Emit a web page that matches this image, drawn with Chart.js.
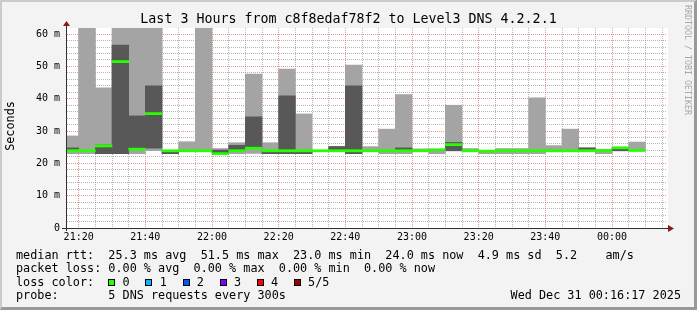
<!DOCTYPE html>
<html>
<head>
<meta charset="utf-8">
<title>Last 3 Hours from c8f8edaf78f2 to Level3 DNS 4.2.2.1</title>
<script src="https://cdn.jsdelivr.net/npm/chart.js@4.4.1/dist/chart.umd.min.js"></script>
<style>
  html, body { margin: 0; padding: 0; background: #f3f3f3; }
  #graph { position: relative; width: 697px; height: 310px; background: #f3f3f3; overflow: hidden;
           font-family: 'DejaVu Sans Mono', monospace; color: #000; }
  #graph canvas { position: absolute; left: 0; top: 0; }
  #frame { position: absolute; left: 0; top: 0; width: 697px; height: 310px; box-sizing: border-box;
           border-style: solid; border-width: 2px 3px 3px 2px; border-color: #cbcbcb #999 #999 #cbcbcb; }
  .txt { position: absolute; white-space: pre; }
  #title { left: 0; width: 697px; text-align: center; top: 11.4px; font-size: 13.3px; line-height: 16px; }
  #ylab { left: -40px; width: 100px; top: 119px; line-height: 14px; text-align: center; font-size: 11.8px;
          transform: rotate(-90deg); }
  #credit { left: 683px; top: 5px; font-size: 8.3px; line-height: 10px; writing-mode: vertical-rl; color: #a8a8a8; }
  .row { left: 16px; font-size: 11.8px; line-height: 13.3px; }
  .sw { position: absolute; width: 5px; height: 5px; border: 1px solid #000; }
  .lab { font-size: 11.8px; line-height: 13.3px; }
</style>
</head>
<body>
<div id="graph">
  <canvas id="chart" width="697" height="310"></canvas>
  <div class="txt" id="title">Last 3 Hours from c8f8edaf78f2 to Level3 DNS 4.2.2.1</div>
  <div class="txt" id="ylab">Seconds</div>
  <div class="txt" id="credit">RRDTOOL / TOBI OETIKER</div>
  <div class="txt row" style="top:248.5px">median rtt:  25.3 ms avg  51.5 ms max  23.0 ms min  24.0 ms now  4.9 ms sd  5.2    am/s</div>
  <div class="txt row" style="top:262px">packet loss: 0.00 % avg  0.00 % max  0.00 % min  0.00 % now</div>
  <div class="txt row" style="top:275.5px">loss color:</div>
  <div id="loss"></div>
  <div class="txt row" style="top:289px">probe:       5 DNS requests every 300s</div>
  <div class="txt row" style="top:289px; left:auto; right:16px">Wed Dec 31 00:16:17 2025</div>
  <div id="frame"></div>
</div>
<script>
// 5-minute slots (start time of each bar)
const slots = ['21:15','21:20','21:25','21:30','21:35','21:40','21:45','21:50','21:55',
  '22:00','22:05','22:10','22:15','22:20','22:25','22:30','22:35','22:40','22:45','22:50','22:55',
  '23:00','23:05','23:10','23:15','23:20','23:25','23:30','23:35','23:40','23:45','23:50','23:55',
  '00:00','00:05'];

// smoke: outer pings (lightest) and inner pings (darker), ms
const pingMin = [23.0,23.0,23.0,23.0,23.0,23.9,23.0,23.9,23.9,
  22.9,23.0,23.1,23.0,23.0,23.0,23.9,23.9,23.0,23.9,23.0,23.0,
  23.9,23.0,23.9,23.9,23.0,23.0,23.0,23.0,23.6,23.9,23.9,23.0,
  23.9,23.9];
const pingMax = [28.5,66.0,43.4,66.0,66.0,66.0,24.0,26.7,66.0,
  24.6,26.4,47.6,26.4,49.2,35.3,24.0,25.3,50.4,25.2,30.6,41.3,
  24.5,24.4,38.0,24.6,24.0,24.6,24.6,40.3,25.5,30.6,24.8,24.4,
  25.0,26.6];
const innerLow = [24.3,null,23.0,23.0,24.5,24.7,23.0,null,null,
  23.3,24.0,24.6,23.0,23.0,23.0,null,23.9,23.0,null,null,24.2,
  null,null,23.9,null,null,null,null,null,null,null,23.9,null,
  23.9,null];
const innerHigh = [24.8,null,25.7,56.6,34.7,44.0,23.8,null,null,
  24.1,25.6,34.4,23.8,40.9,23.8,null,25.2,44.0,null,null,24.8,
  null,null,26.5,null,null,null,null,null,null,null,24.8,null,
  24.5,null];
const medianRtt = [23.9,23.9,25.4,51.5,24.4,35.4,23.9,23.9,23.9,
  23.0,23.9,24.7,23.9,23.9,23.9,23.9,23.9,23.9,23.9,23.9,23.9,
  23.9,24.2,25.8,23.9,23.8,23.9,23.9,23.9,23.9,23.9,23.9,23.9,
  24.8,24.0];

const xTickLabels = ['21:20','21:40','22:00','22:20','22:40','23:00','23:20','23:40','00:00'];
const yTickValues = [0, 10, 20, 30, 40, 50, 60];
const yTickLabels = ['0', '10 m', '20 m', '30 m', '40 m', '50 m', '60 m'];

const lossLabels = ['0', '1', '2', '3', '4', '5/5'];
const lossColors = ['#26ff00', '#00b8ff', '#0059ff', '#7e00ff', '#ff0000', '#a00000'];

// minutes since 21:00
const toMin = t => { let [h, m] = t.split(':').map(Number); if (h < 12) h += 24; return (h - 21) * 60 + m; };
const xs = slots.map(s => toMin(s) + 2.5);
const xMajor = xTickLabels.map(toMin);

const band = (lo, hi) => slots.map((s, i) => lo[i] == null ? null : { x: xs[i], y: [lo[i], hi[i]] }).filter(Boolean);
const medianBand = medianRtt.map((m, i) => ({ x: xs[i], y: [m - 0.33, m + 0.33] }));

// loss colour legend
const loss = document.getElementById('loss');
lossLabels.forEach((l, k) => {
  const sw = document.createElement('div');
  sw.className = 'sw';
  sw.style.left = (108.3 + 37.1 * k) + 'px';
  sw.style.top = '279px';
  sw.style.background = lossColors[k];
  loss.appendChild(sw);
  const t = document.createElement('div');
  t.className = 'txt lab';
  t.style.left = (122.6 + 37.1 * k) + 'px';
  t.style.top = '275.5px';
  t.textContent = l;
  loss.appendChild(t);
});

const minorGrid = 'rgba(120,120,120,0.55)';
const majorGrid = 'rgba(225,60,60,0.55)';
const tickFont = { family: 'DejaVu Sans Mono', size: 10 };

const plotBg = {
  id: 'plotBg',
  beforeDraw(chart) {
    const { ctx, chartArea: a } = chart;
    ctx.save();
    ctx.fillStyle = '#ffffff';
    ctx.fillRect(a.left, a.top, a.right - a.left + 1, a.bottom - a.top);
    ctx.restore();
  }
};

const axisLines = {
  id: 'axisLines',
  afterDraw(chart) {
    const { ctx, chartArea: a } = chart;
    ctx.save();
    ctx.strokeStyle = '#303030';
    ctx.lineWidth = 1;
    ctx.beginPath();
    ctx.moveTo(a.left - 5, a.bottom + 0.5);
    ctx.lineTo(a.right + 3, a.bottom + 0.5);
    ctx.moveTo(a.left - 0.5, a.bottom + 3);
    ctx.lineTo(a.left - 0.5, a.top - 3);
    ctx.stroke();
    ctx.fillStyle = '#8b1a1a';
    ctx.beginPath();
    ctx.moveTo(a.right + 7, a.bottom + 0.5);
    ctx.lineTo(a.right + 1, a.bottom - 3);
    ctx.lineTo(a.right + 1, a.bottom + 4);
    ctx.fill();
    ctx.beginPath();
    ctx.moveTo(a.left - 0.5, a.top - 7);
    ctx.lineTo(a.left - 4, a.top - 2);
    ctx.lineTo(a.left + 3, a.top - 2);
    ctx.fill();
    ctx.restore();
  }
};

new Chart(document.getElementById('chart'), {
  type: 'bar',
  data: {
    datasets: [
      { label: 'median rtt', data: medianBand, backgroundColor: lossColors[0], clip: 0 },
      { label: 'inner pings', data: band(innerLow, innerHigh), backgroundColor: '#585858', clip: 0 },
      { label: 'all pings', data: band(pingMin, pingMax), backgroundColor: '#a4a4a4', clip: 0 }
    ]
  },
  options: {
    responsive: false,
    animation: false,
    events: [],
    layout: { padding: { left: 0, top: 28, right: 30, bottom: 0 } },
    datasets: { bar: { grouped: false, barPercentage: 1, categoryPercentage: 1, borderWidth: 0 } },
    plugins: { legend: { display: false }, tooltip: { enabled: false } },
    scales: {
      x: {
        type: 'linear', min: 16.5, max: 196.5, offset: false,
        afterBuildTicks: s => { const t = []; for (let v = 20; v <= 195; v += 5) t.push({ value: v }); s.ticks = t; },
        afterFit: s => { s.height = 82; },
        grid: { offset: false, drawTicks: false, lineWidth: 1,
                color: c => xMajor.includes(c.tick && c.tick.value) ? majorGrid : minorGrid },
        border: { display: false, dash: [1, 1] },
        ticks: { autoSkip: false, maxRotation: 0, padding: 3, font: tickFont, color: '#000',
                 callback: v => { const k = xMajor.indexOf(v); return k < 0 ? '' : xTickLabels[k]; } }
      },
      y: {
        min: 0, max: 61.9,
        afterBuildTicks: s => { const t = []; for (let v = 0; v <= 60; v += 2) t.push({ value: v }); s.ticks = t; },
        afterFit: s => { s.width = 67; },
        grid: { drawTicks: false, lineWidth: 1,
                color: c => yTickValues.includes(c.tick && c.tick.value) ? majorGrid : minorGrid },
        border: { display: false, dash: [1, 1] },
        ticks: { autoSkip: false, padding: 7, font: tickFont, color: '#000',
                 callback: v => { const k = yTickValues.indexOf(v); return k < 0 ? '' : yTickLabels[k]; } }
      }
    }
  },
  plugins: [plotBg, axisLines]
});
</script>
</body>
</html>
